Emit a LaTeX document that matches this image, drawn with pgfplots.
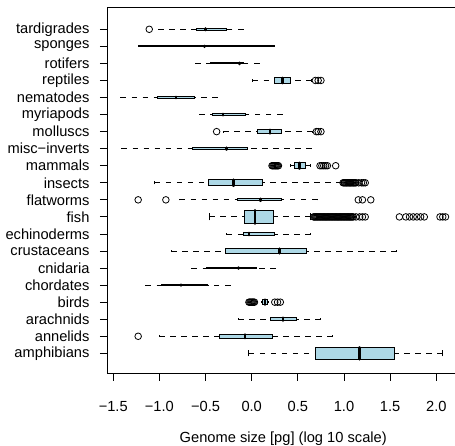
\documentclass[border=0pt]{standalone}
\usepackage{fontspec}
\setmainfont{Liberation Sans}
\usepackage{pgfplots}
\pgfplotsset{compat=1.18}
\usepgfplotslibrary{statistics}
\definecolor{boxblue}{RGB}{173,216,230}
% #1 position, #2 lower whisker, #3 q1, #4 median, #5 q3, #6 upper whisker, #7 box extend, #8 staple extend
\newcommand{\bx}[8]{\addplot[boxplot prepared={draw position=#1, lower whisker=#2, lower quartile=#3, median=#4, upper quartile=#5, upper whisker=#6, box extend=#7, whisker extend=#8}] coordinates {};}
\begin{document}
\begin{tikzpicture}
\begin{axis}[
  scale only axis,
  width=347.7pt, height=366pt,
  xmin=-1.5645, xmax=2.2026,
  ymin=-0.17, ymax=21.29,
  axis lines*=left,
  axis line style={line width=0.9pt},
  font=\fontsize{14.66}{17}\selectfont,
  tick style={line width=0.9pt, black},
  tick align=outside,
  major tick length=7.3pt,
  xtick={-1.5,-1,-0.5,0,0.5,1,1.5,2},
  xticklabels={−1.5,−1.0,−0.5,0.0,0.5,1.0,1.5,2.0},
  xticklabel style={yshift=-17pt},
  ytick={1,...,20},
  yticklabels={amphibians,annelids,arachnids,birds,chordates,cnidaria,crustaceans,echinoderms,fish,flatworms,insects,mammals,misc−inverts,molluscs,myriapods,nematodes,reptiles,rotifers,sponges,tardigrades},
  yticklabel style={xshift=-7pt},
  xlabel={Genome size [pg] (log 10 scale)},
  xlabel style={at={(rel axis cs:0.506,0)}, anchor=base, yshift=-68.9pt, inner sep=0pt},
  boxplot/draw direction=x,
  boxplot/every box/.style={draw=black, fill=boxblue, line width=1.0pt},
  boxplot/every median/.style={draw=black, line width=2.6pt, line cap=round},
  boxplot/draw/lower whisker/.code={%
    \draw[black, line width=0.9pt, dash pattern=on 5.5pt off 5.5pt]
      (boxplot cs:\pgfplotsboxplotvalue{lower whisker}) -- (boxplot cs:\pgfplotsboxplotvalue{lower quartile});
    \draw[black, line width=1.0pt]
      (boxplot whisker cs:\pgfplotsboxplotvalue{lower whisker},0) -- (boxplot whisker cs:\pgfplotsboxplotvalue{lower whisker},1);
  },
  boxplot/draw/upper whisker/.code={%
    \draw[black, line width=0.9pt, dash pattern=on 5.5pt off 5.5pt]
      (boxplot cs:\pgfplotsboxplotvalue{upper whisker}) -- (boxplot cs:\pgfplotsboxplotvalue{upper quartile});
    \draw[black, line width=1.0pt]
      (boxplot whisker cs:\pgfplotsboxplotvalue{upper whisker},0) -- (boxplot whisker cs:\pgfplotsboxplotvalue{upper whisker},1);
  },
]
\bx{20}{-1.01}{-0.60}{-0.50}{-0.27}{-0.09}{0.10}{0.05}
\bx{19}{-1.23}{-1.23}{-0.51}{0.25}{0.25}{0.05}{0.025}
\bx{18}{-0.61}{-0.45}{-0.13}{-0.09}{0.08}{0.07}{0.035}
\bx{17}{0.01}{0.245}{0.336}{0.42}{0.65}{0.30}{0.15}
\bx{16}{-1.42}{-1.02}{-0.82}{-0.62}{-0.37}{0.08}{0.04}
\bx{15}{-0.57}{-0.42}{-0.31}{-0.07}{0.33}{0.09}{0.045}
\bx{14}{-0.31}{0.065}{0.20}{0.32}{0.66}{0.22}{0.11}
\bx{13}{-1.41}{-0.64}{-0.27}{-0.05}{0.65}{0.11}{0.055}
\bx{12}{0.42}{0.46}{0.516}{0.58}{0.64}{0.34}{0.17}
\bx{11}{-1.05}{-0.47}{-0.20}{0.115}{0.975}{0.36}{0.18}
\bx{10}{-0.78}{-0.156}{0.093}{0.32}{0.71}{0.12}{0.06}
\bx{9}{-0.46}{-0.08}{0.036}{0.235}{0.64}{0.80}{0.40}
\bx{8}{-0.27}{-0.09}{-0.03}{0.245}{0.64}{0.13}{0.065}
\bx{7}{-0.87}{-0.28}{0.30}{0.596}{1.57}{0.26}{0.13}
\bx{6}{-0.65}{-0.49}{-0.145}{0.05}{0.26}{0.06}{0.03}
\bx{5}{-1.15}{-0.975}{-0.766}{-0.477}{-0.235}{0.06}{0.03}
\bx{4}{0.11}{0.12}{0.145}{0.17}{0.18}{0.30}{0.15}
\bx{3}{-0.145}{0.206}{0.34}{0.48}{0.75}{0.18}{0.09}
\bx{2}{-1.00}{-0.35}{-0.073}{0.227}{0.877}{0.22}{0.11}
\bx{1}{-0.03}{0.693}{1.166}{1.545}{2.07}{0.70}{0.35}
\addplot[only marks, mark=o, mark size=3.3pt, mark options={black, line width=0.8pt}] coordinates {
 (-1.11,20)
 (0.69,17) (0.72,17) (0.75,17)
 (-0.38,14) (0.70,14) (0.72,14) (0.75,14)
 (0.22,12) (0.23,12) (0.24,12) (0.25,12) (0.26,12) (0.27,12) (0.28,12) (0.29,12)
 (0.74,12) (0.76,12) (0.78,12) (0.80,12) (0.82,12) (0.91,12)
 (0.99,11) (1.00,11) (1.01,11) (1.02,11) (1.03,11) (1.04,11) (1.05,11) (1.06,11) (1.07,11) (1.08,11) (1.09,11) (1.10,11) (1.11,11) (1.12,11) (1.13,11) (1.16,11) (1.19,11) (1.21,11) (1.23,11)
 (-1.23,10) (-0.93,10) (1.155,10) (1.20,10) (1.29,10)
 (0.67,9) (0.68,9) (0.69,9) (0.70,9) (0.71,9) (0.72,9) (0.73,9) (0.74,9) (0.75,9) (0.76,9) (0.77,9) (0.78,9) (0.79,9) (0.80,9) (0.81,9) (0.82,9) (0.83,9) (0.84,9) (0.85,9) (0.86,9) (0.87,9) (0.88,9) (0.89,9) (0.90,9) (0.91,9) (0.92,9) (0.93,9) (0.94,9) (0.95,9) (0.96,9) (0.97,9) (0.98,9) (0.99,9) (1.00,9) (1.01,9) (1.02,9) (1.03,9) (1.04,9) (1.05,9) (1.06,9) (1.07,9) (1.08,9) (1.09,9) (1.10,9)
 (1.13,9) (1.17,9) (1.20,9) (1.23,9)
 (1.60,9) (1.67,9) (1.71,9) (1.75,9) (1.79,9) (1.83,9) (1.87,9) (2.04,9) (2.07,9) (2.10,9)
 (-0.03,4) (-0.02,4) (-0.01,4) (0.00,4) (0.01,4) (0.02,4) (0.03,4) (0.25,4) (0.28,4) (0.31,4)
 (-1.23,2)
};
\draw[line width=0.9pt] (rel axis cs:0,1) -- (rel axis cs:1,1);
\end{axis}
\pgfresetboundingbox
\useasboundingbox (-107.3pt,-72.7pt) rectangle (347.7pt,373.3pt);
\end{tikzpicture}
\end{document}
